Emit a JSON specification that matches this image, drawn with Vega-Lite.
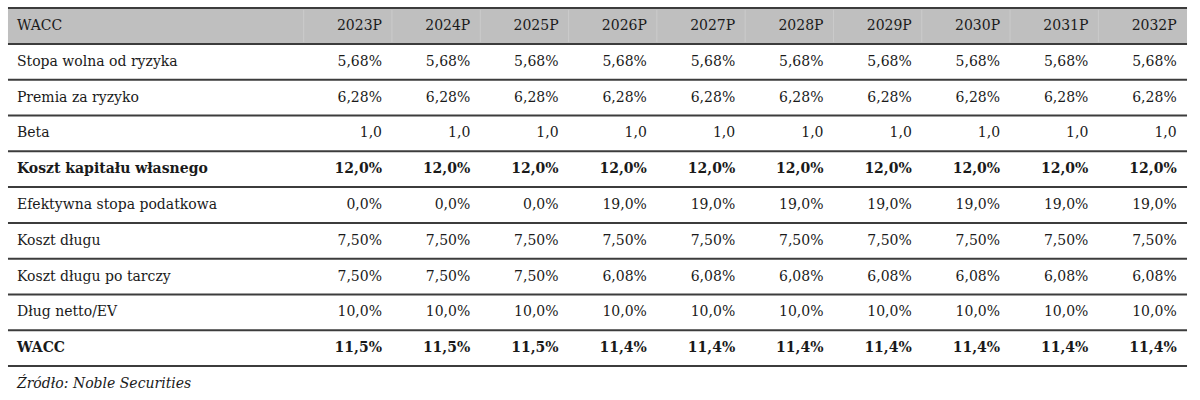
{
  "$schema": "https://vega.github.io/schema/vega-lite/v6.json",
  "width": 1200,
  "height": 400,
  "autosize": {"type": "fit", "contains": "padding"},
  "padding": 0,
  "background": "white",
  "config": {"view": {"stroke": null}, "text": {"font": "DejaVu Serif", "fontSize": 14, "color": "#1a1a1a"}},
  "datasets": {
    "cells": [
      {"r": 0, "c": 0, "t": "WACC", "b": false},
      {"r": 0, "c": 1, "t": "2023P", "b": false},
      {"r": 0, "c": 2, "t": "2024P", "b": false},
      {"r": 0, "c": 3, "t": "2025P", "b": false},
      {"r": 0, "c": 4, "t": "2026P", "b": false},
      {"r": 0, "c": 5, "t": "2027P", "b": false},
      {"r": 0, "c": 6, "t": "2028P", "b": false},
      {"r": 0, "c": 7, "t": "2029P", "b": false},
      {"r": 0, "c": 8, "t": "2030P", "b": false},
      {"r": 0, "c": 9, "t": "2031P", "b": false},
      {"r": 0, "c": 10, "t": "2032P", "b": false},
      {"r": 1, "c": 0, "t": "Stopa wolna od ryzyka", "b": false},
      {"r": 1, "c": 1, "t": "5,68%", "b": false},
      {"r": 1, "c": 2, "t": "5,68%", "b": false},
      {"r": 1, "c": 3, "t": "5,68%", "b": false},
      {"r": 1, "c": 4, "t": "5,68%", "b": false},
      {"r": 1, "c": 5, "t": "5,68%", "b": false},
      {"r": 1, "c": 6, "t": "5,68%", "b": false},
      {"r": 1, "c": 7, "t": "5,68%", "b": false},
      {"r": 1, "c": 8, "t": "5,68%", "b": false},
      {"r": 1, "c": 9, "t": "5,68%", "b": false},
      {"r": 1, "c": 10, "t": "5,68%", "b": false},
      {"r": 2, "c": 0, "t": "Premia za ryzyko", "b": false},
      {"r": 2, "c": 1, "t": "6,28%", "b": false},
      {"r": 2, "c": 2, "t": "6,28%", "b": false},
      {"r": 2, "c": 3, "t": "6,28%", "b": false},
      {"r": 2, "c": 4, "t": "6,28%", "b": false},
      {"r": 2, "c": 5, "t": "6,28%", "b": false},
      {"r": 2, "c": 6, "t": "6,28%", "b": false},
      {"r": 2, "c": 7, "t": "6,28%", "b": false},
      {"r": 2, "c": 8, "t": "6,28%", "b": false},
      {"r": 2, "c": 9, "t": "6,28%", "b": false},
      {"r": 2, "c": 10, "t": "6,28%", "b": false},
      {"r": 3, "c": 0, "t": "Beta", "b": false},
      {"r": 3, "c": 1, "t": "1,0", "b": false},
      {"r": 3, "c": 2, "t": "1,0", "b": false},
      {"r": 3, "c": 3, "t": "1,0", "b": false},
      {"r": 3, "c": 4, "t": "1,0", "b": false},
      {"r": 3, "c": 5, "t": "1,0", "b": false},
      {"r": 3, "c": 6, "t": "1,0", "b": false},
      {"r": 3, "c": 7, "t": "1,0", "b": false},
      {"r": 3, "c": 8, "t": "1,0", "b": false},
      {"r": 3, "c": 9, "t": "1,0", "b": false},
      {"r": 3, "c": 10, "t": "1,0", "b": false},
      {"r": 4, "c": 0, "t": "Koszt kapitału własnego", "b": true},
      {"r": 4, "c": 1, "t": "12,0%", "b": true},
      {"r": 4, "c": 2, "t": "12,0%", "b": true},
      {"r": 4, "c": 3, "t": "12,0%", "b": true},
      {"r": 4, "c": 4, "t": "12,0%", "b": true},
      {"r": 4, "c": 5, "t": "12,0%", "b": true},
      {"r": 4, "c": 6, "t": "12,0%", "b": true},
      {"r": 4, "c": 7, "t": "12,0%", "b": true},
      {"r": 4, "c": 8, "t": "12,0%", "b": true},
      {"r": 4, "c": 9, "t": "12,0%", "b": true},
      {"r": 4, "c": 10, "t": "12,0%", "b": true},
      {"r": 5, "c": 0, "t": "Efektywna stopa podatkowa", "b": false},
      {"r": 5, "c": 1, "t": "0,0%", "b": false},
      {"r": 5, "c": 2, "t": "0,0%", "b": false},
      {"r": 5, "c": 3, "t": "0,0%", "b": false},
      {"r": 5, "c": 4, "t": "19,0%", "b": false},
      {"r": 5, "c": 5, "t": "19,0%", "b": false},
      {"r": 5, "c": 6, "t": "19,0%", "b": false},
      {"r": 5, "c": 7, "t": "19,0%", "b": false},
      {"r": 5, "c": 8, "t": "19,0%", "b": false},
      {"r": 5, "c": 9, "t": "19,0%", "b": false},
      {"r": 5, "c": 10, "t": "19,0%", "b": false},
      {"r": 6, "c": 0, "t": "Koszt długu", "b": false},
      {"r": 6, "c": 1, "t": "7,50%", "b": false},
      {"r": 6, "c": 2, "t": "7,50%", "b": false},
      {"r": 6, "c": 3, "t": "7,50%", "b": false},
      {"r": 6, "c": 4, "t": "7,50%", "b": false},
      {"r": 6, "c": 5, "t": "7,50%", "b": false},
      {"r": 6, "c": 6, "t": "7,50%", "b": false},
      {"r": 6, "c": 7, "t": "7,50%", "b": false},
      {"r": 6, "c": 8, "t": "7,50%", "b": false},
      {"r": 6, "c": 9, "t": "7,50%", "b": false},
      {"r": 6, "c": 10, "t": "7,50%", "b": false},
      {"r": 7, "c": 0, "t": "Koszt długu po tarczy", "b": false},
      {"r": 7, "c": 1, "t": "7,50%", "b": false},
      {"r": 7, "c": 2, "t": "7,50%", "b": false},
      {"r": 7, "c": 3, "t": "7,50%", "b": false},
      {"r": 7, "c": 4, "t": "6,08%", "b": false},
      {"r": 7, "c": 5, "t": "6,08%", "b": false},
      {"r": 7, "c": 6, "t": "6,08%", "b": false},
      {"r": 7, "c": 7, "t": "6,08%", "b": false},
      {"r": 7, "c": 8, "t": "6,08%", "b": false},
      {"r": 7, "c": 9, "t": "6,08%", "b": false},
      {"r": 7, "c": 10, "t": "6,08%", "b": false},
      {"r": 8, "c": 0, "t": "Dług netto/EV", "b": false},
      {"r": 8, "c": 1, "t": "10,0%", "b": false},
      {"r": 8, "c": 2, "t": "10,0%", "b": false},
      {"r": 8, "c": 3, "t": "10,0%", "b": false},
      {"r": 8, "c": 4, "t": "10,0%", "b": false},
      {"r": 8, "c": 5, "t": "10,0%", "b": false},
      {"r": 8, "c": 6, "t": "10,0%", "b": false},
      {"r": 8, "c": 7, "t": "10,0%", "b": false},
      {"r": 8, "c": 8, "t": "10,0%", "b": false},
      {"r": 8, "c": 9, "t": "10,0%", "b": false},
      {"r": 8, "c": 10, "t": "10,0%", "b": false},
      {"r": 9, "c": 0, "t": "WACC", "b": true},
      {"r": 9, "c": 1, "t": "11,5%", "b": true},
      {"r": 9, "c": 2, "t": "11,5%", "b": true},
      {"r": 9, "c": 3, "t": "11,5%", "b": true},
      {"r": 9, "c": 4, "t": "11,4%", "b": true},
      {"r": 9, "c": 5, "t": "11,4%", "b": true},
      {"r": 9, "c": 6, "t": "11,4%", "b": true},
      {"r": 9, "c": 7, "t": "11,4%", "b": true},
      {"r": 9, "c": 8, "t": "11,4%", "b": true},
      {"r": 9, "c": 9, "t": "11,4%", "b": true},
      {"r": 9, "c": 10, "t": "11,4%", "b": true}
    ],
    "borders": [
      {"edge": -0.5}, {"edge": 0.5}, {"edge": 1.5}, {"edge": 2.5}, {"edge": 3.5}, {"edge": 4.5},
      {"edge": 5.5}, {"edge": 6.5}, {"edge": 7.5}, {"edge": 8.5}, {"edge": 9.5}
    ],
    "seps": [
      {"s": 0.113}, {"s": 1.113}, {"s": 2.113}, {"s": 3.113}, {"s": 4.113},
      {"s": 5.113}, {"s": 6.113}, {"s": 7.113}, {"s": 8.113}, {"s": 9.113}
    ],
    "notes": [{"r": 10, "t": "Źródło: Noble Securities"}]
  },
  "layer": [
    {
      "data": {"values": [{"h": "header"}]},
      "mark": {"type": "rect", "color": "#bfbfbf"},
      "encoding": {
        "x": {"datum": -3.2356, "type": "quantitative", "scale": {"domain": [-3.326, 10.264], "nice": false, "zero": false}, "axis": null},
        "x2": {"datum": 10.117},
        "y": {"datum": -0.5, "type": "quantitative", "scale": {"domain": [-0.726, 10.447], "nice": false, "zero": false, "reverse": true}, "axis": null},
        "y2": {"datum": 0.5}
      }
    },
    {
      "data": {"name": "seps"},
      "mark": {"type": "rule", "color": "#cbcbcb", "strokeWidth": 1},
      "encoding": {
        "x": {"field": "s", "type": "quantitative"},
        "y": {"datum": -0.45, "type": "quantitative"},
        "y2": {"datum": 0.45}
      }
    },
    {
      "data": {"name": "borders"},
      "mark": {"type": "rule", "color": "#3c3c3c", "strokeWidth": 2},
      "encoding": {
        "y": {"field": "edge", "type": "quantitative"},
        "x": {"datum": -3.2356, "type": "quantitative"},
        "x2": {"datum": 10.117}
      }
    },
    {
      "data": {"name": "cells"},
      "transform": [{"filter": "datum.c == 0 && !datum.b"}],
      "mark": {"type": "text", "align": "left", "baseline": "middle"},
      "encoding": {
        "x": {"datum": -3.134, "type": "quantitative"},
        "y": {"field": "r", "type": "quantitative"},
        "text": {"field": "t"}
      }
    },
    {
      "data": {"name": "cells"},
      "transform": [{"filter": "datum.c == 0 && datum.b"}],
      "mark": {"type": "text", "align": "left", "baseline": "middle", "fontWeight": "bold"},
      "encoding": {
        "x": {"datum": -3.134, "type": "quantitative"},
        "y": {"field": "r", "type": "quantitative"},
        "text": {"field": "t"}
      }
    },
    {
      "data": {"name": "cells"},
      "transform": [{"filter": "datum.c > 0 && !datum.b"}],
      "mark": {"type": "text", "align": "right", "baseline": "middle"},
      "encoding": {
        "x": {"field": "c", "type": "quantitative"},
        "y": {"field": "r", "type": "quantitative"},
        "text": {"field": "t"}
      }
    },
    {
      "data": {"name": "cells"},
      "transform": [{"filter": "datum.c > 0 && datum.b"}],
      "mark": {"type": "text", "align": "right", "baseline": "middle", "fontWeight": "bold"},
      "encoding": {
        "x": {"field": "c", "type": "quantitative"},
        "y": {"field": "r", "type": "quantitative"},
        "text": {"field": "t"}
      }
    },
    {
      "data": {"name": "notes"},
      "mark": {"type": "text", "align": "left", "baseline": "middle", "fontStyle": "italic"},
      "encoding": {
        "x": {"datum": -3.134, "type": "quantitative"},
        "y": {"field": "r", "type": "quantitative"},
        "text": {"field": "t"}
      }
    }
  ]
}
